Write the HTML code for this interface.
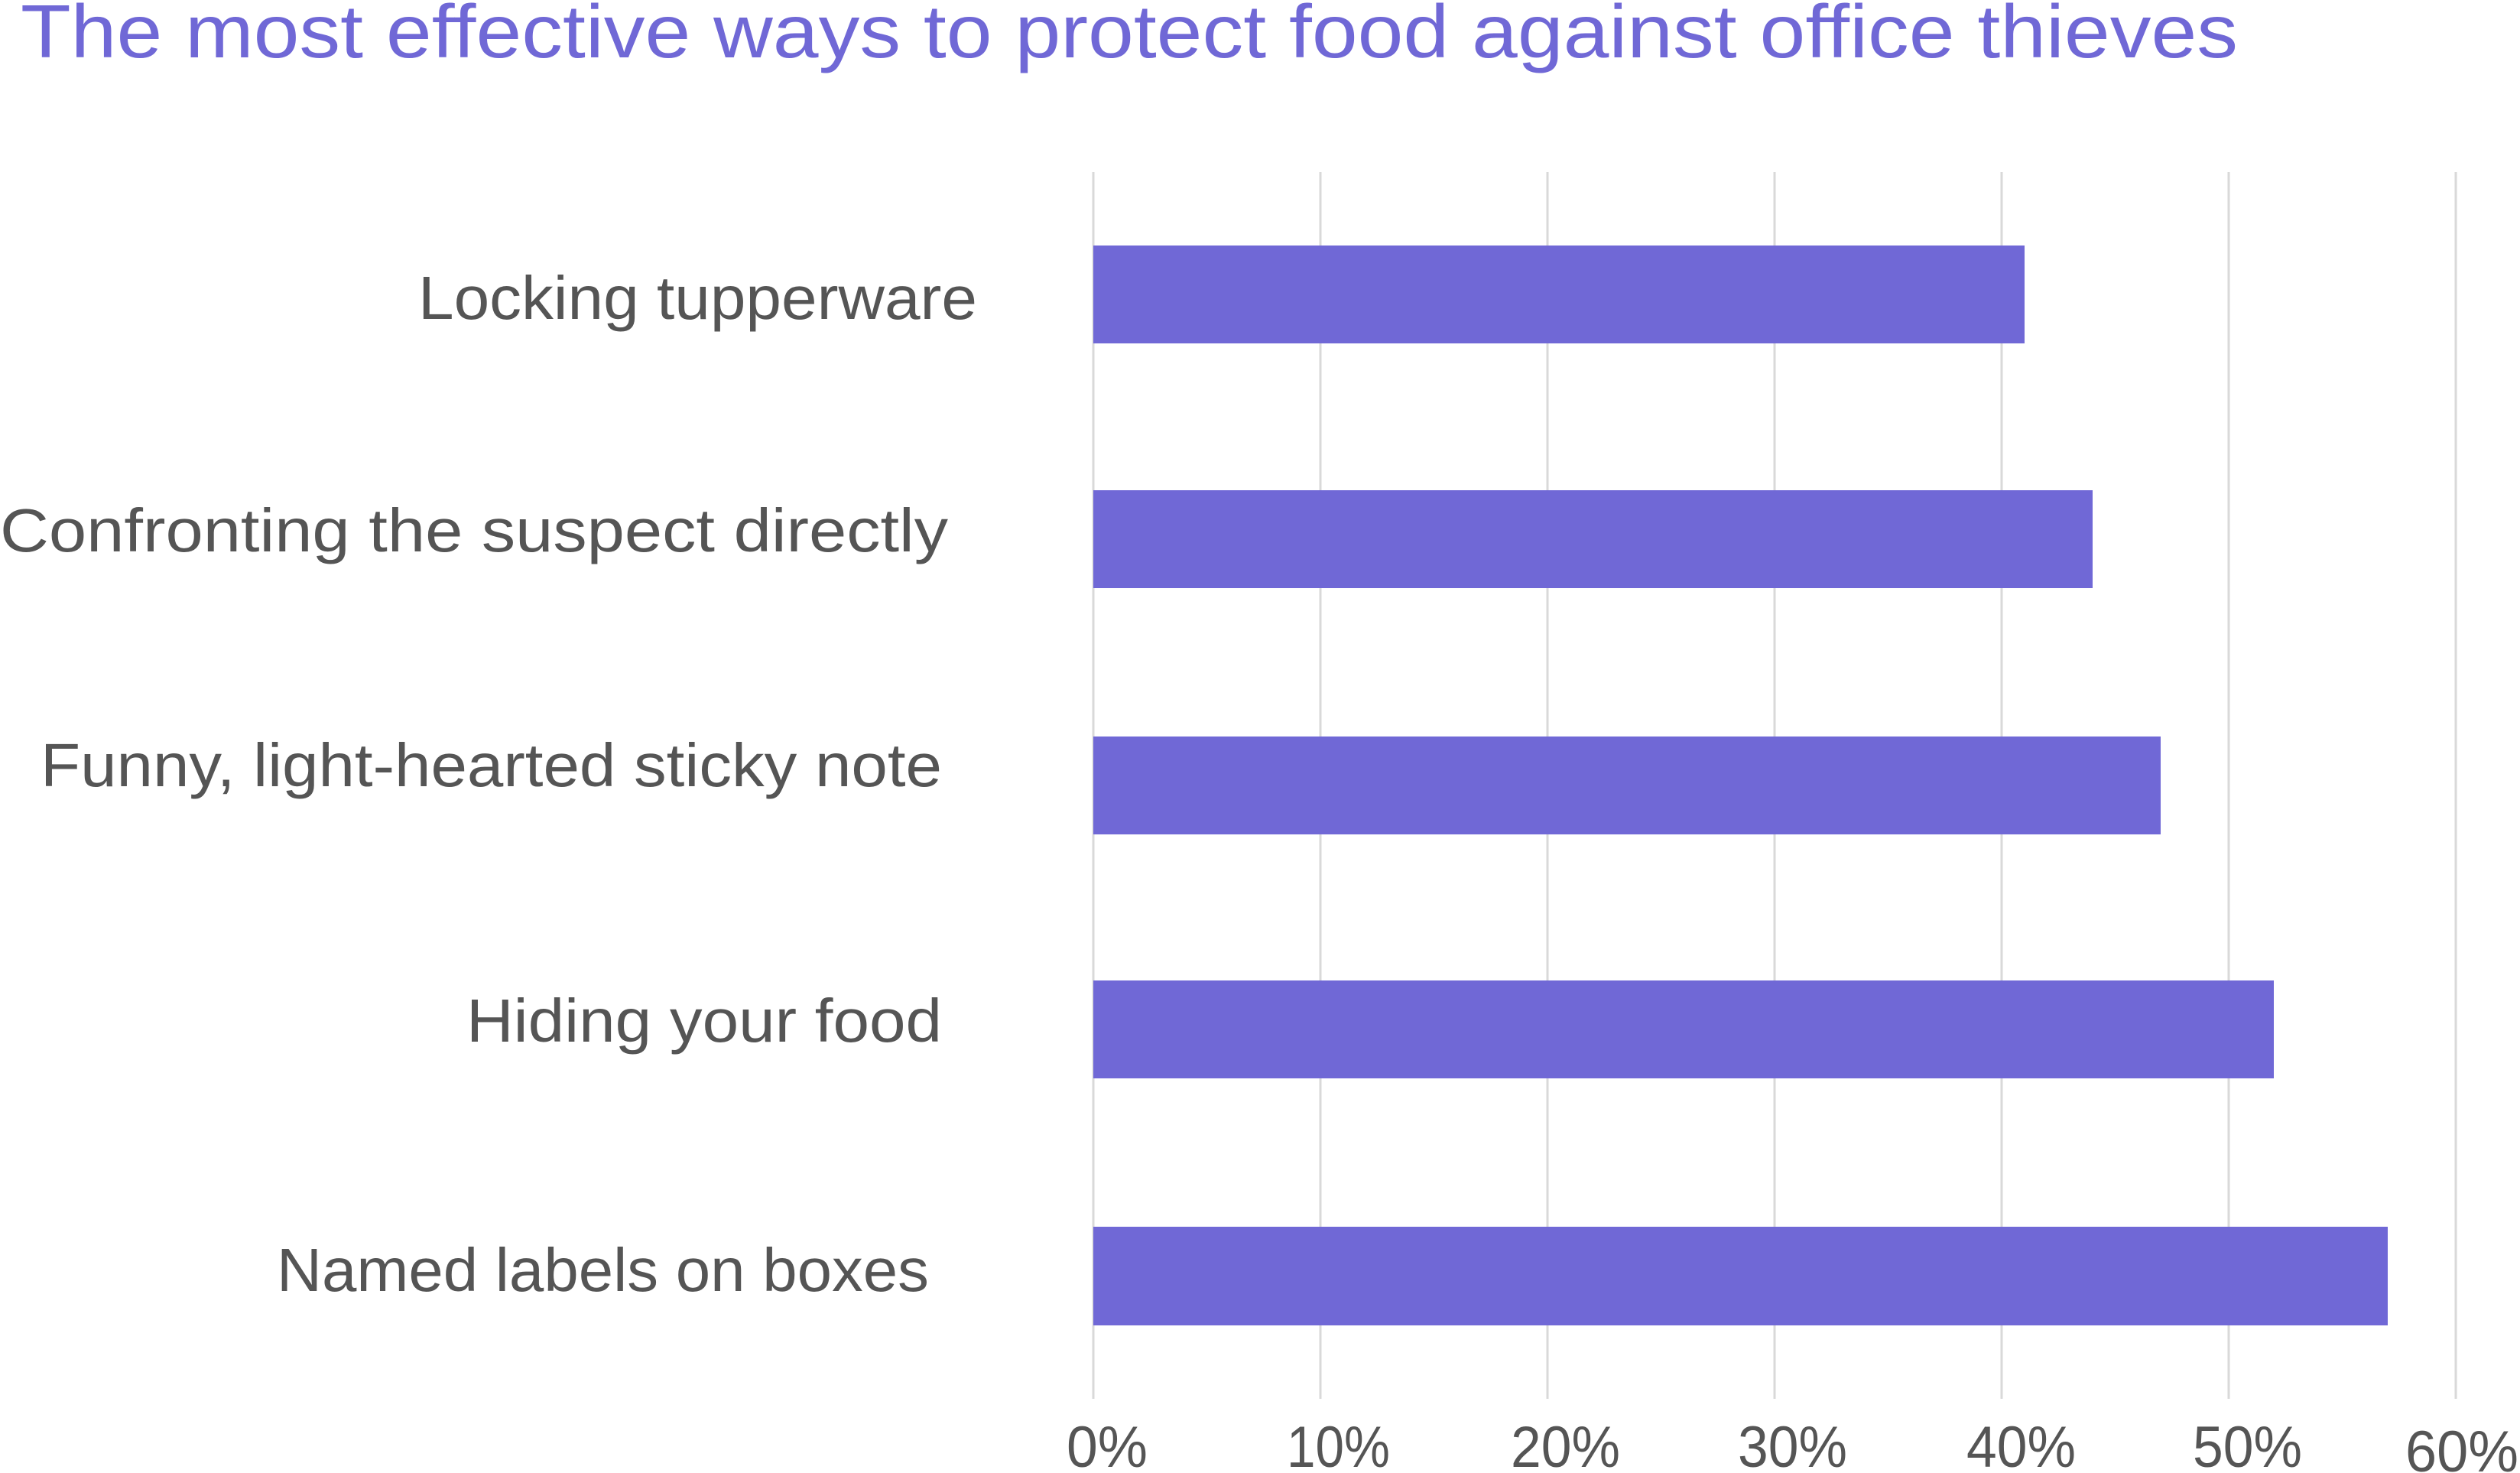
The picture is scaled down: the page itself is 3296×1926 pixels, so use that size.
<!DOCTYPE html>
<html><head><meta charset="utf-8"><style>
html,body{margin:0;padding:0;background:#fff;}
svg{display:block;}
text{font-family:"Liberation Sans",sans-serif;}
</style></head><body>
<svg width="3296" height="1926" viewBox="0 0 3296 1926" xmlns="http://www.w3.org/2000/svg">
<rect width="3296" height="1926" fill="#fff"/>
<text x="27" y="75" font-size="98" fill="#7068d6" textLength="2900" lengthAdjust="spacingAndGlyphs">The most effective ways to protect food against office thieves</text>
<g stroke="#d9d9d9" stroke-width="3">
<line x1="1430" y1="225" x2="1430" y2="1829"/>
<line x1="1727" y1="225" x2="1727" y2="1829"/>
<line x1="2024" y1="225" x2="2024" y2="1829"/>
<line x1="2321" y1="225" x2="2321" y2="1829"/>
<line x1="2618" y1="225" x2="2618" y2="1829"/>
<line x1="2915" y1="225" x2="2915" y2="1829"/>
<line x1="3212" y1="225" x2="3212" y2="1829"/>
</g>
<g fill="#7068d6">
<rect x="1430" y="321" width="1218" height="128"/>
<rect x="1430" y="641" width="1307" height="128"/>
<rect x="1430" y="963" width="1396" height="128"/>
<rect x="1430" y="1282" width="1544" height="128"/>
<rect x="1430" y="1604" width="1693" height="129"/>
</g>
<g fill="#555" font-size="80">
<text x="547" y="417" textLength="731" lengthAdjust="spacingAndGlyphs">Locking tupperware</text>
<text x="0" y="721" textLength="1240" lengthAdjust="spacingAndGlyphs">Confronting the suspect directly</text>
<text x="53" y="1028" textLength="1179" lengthAdjust="spacingAndGlyphs">Funny, light-hearted sticky note</text>
<text x="610" y="1362" textLength="622" lengthAdjust="spacingAndGlyphs">Hiding your food</text>
<text x="362" y="1688" textLength="853" lengthAdjust="spacingAndGlyphs">Named labels on boxes</text>
</g>
<g fill="#555" font-size="76">
<text x="1395" y="1918" textLength="106" lengthAdjust="spacingAndGlyphs">0%</text>
<text x="1683" y="1918" textLength="135" lengthAdjust="spacingAndGlyphs">10%</text>
<text x="1976" y="1918" textLength="143" lengthAdjust="spacingAndGlyphs">20%</text>
<text x="2273" y="1918" textLength="143" lengthAdjust="spacingAndGlyphs">30%</text>
<text x="2572" y="1918" textLength="143" lengthAdjust="spacingAndGlyphs">40%</text>
<text x="2868" y="1918" textLength="143" lengthAdjust="spacingAndGlyphs">50%</text>
<text x="3146" y="1924" textLength="148" lengthAdjust="spacingAndGlyphs">60%</text>
</g>
</svg>
</body></html>
